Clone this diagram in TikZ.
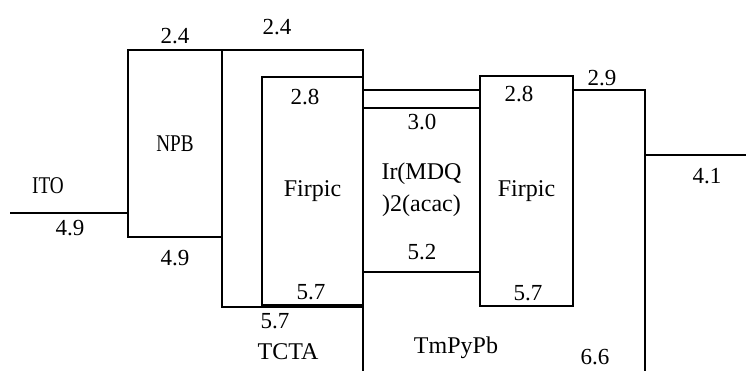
\documentclass[tikz,border=0pt]{standalone}
\usepackage{fontspec}
\setmainfont{Liberation Serif}
\newfontfamily\narrowfont[FakeStretch=0.8]{Liberation Serif}
\usetikzlibrary{positioning}

\begin{document}
\begin{tikzpicture}[
  x=1pt, y=-1pt,
  layer/.style={draw, line width=2.8pt, fill=white, rectangle, anchor=north west,
                inner sep=0pt, outer sep=0pt, align=center,
                font=\fontsize{24}{32}\selectfont},
  lvl/.style={font=\fontsize{23}{26}\selectfont, inner sep=0pt},
  lname/.style={font=\fontsize{24}{28}\selectfont, inner sep=0pt},
  wire/.style={line width=2.8pt}
]
\useasboundingbox (0,0) rectangle (746,370);
\clip (0,0) rectangle (746,370);

% layers, back to front
\node[layer, minimum width=141pt, minimum height=257pt] (tcta) at (222,50) {};
\node[layer, minimum width=94pt, minimum height=187pt,
      font=\narrowfont\fontsize{24}{28}\selectfont] (npb) at (128,50) {NPB};
\node[layer, minimum width=101pt, minimum height=228pt] (firpicL) at (262,77) {Firpic};
\node[layer, minimum width=282pt, minimum height=330pt] (tmpypb) at (363,90) {};
\node[layer, minimum width=117pt, minimum height=164pt] (irq) at (363,108) {Ir(MDQ\\)2(acac)};
\node[layer, minimum width=93pt, minimum height=230pt] (firpicR) at (480,76) {Firpic};

% electrodes
\coordinate (ito) at (10,213);
\coordinate (cath) at (746,155);
\draw[wire] (ito) -- (npb.west |- ito);
\draw[wire] (tmpypb.north east |- cath) -- (cath);

% names
\node[lname, font=\narrowfont\fontsize{24}{28}\selectfont] (itoname) at (48,186) {ITO};
\node[lname] (tctaname) at (288,352) {TCTA};
\node[lname] (tmpname) at (456,348) {TmPyPb};

% energy levels
\node[lvl] (itoL) at (70,228) {4.9};
\node[lvl] (npbH) at (175,36) {2.4};
\node[lvl] (npbL) at (175,258) {4.9};
\node[lvl] (tctaH) at (277,27) {2.4};
\node[lvl] (tctaL) at (275,321) {5.7};
\node[lvl] (firLH) at (305,97) {2.8};
\node[lvl] (firLL) at (311,292) {5.7};
\node[lvl] (irqH) at (422,122) {3.0};
\node[lvl] (irqL) at (422,252) {5.2};
\node[lvl] (firRH) at (519,94) {2.8};
\node[lvl] (firRL) at (528,293) {5.7};
\node[lvl] (tmpH) at (602,78) {2.9};
\node[lvl] (tmpL) at (595,357) {6.6};
\node[lvl] (cathL) at (707,176) {4.1};
\end{tikzpicture}
\end{document}
